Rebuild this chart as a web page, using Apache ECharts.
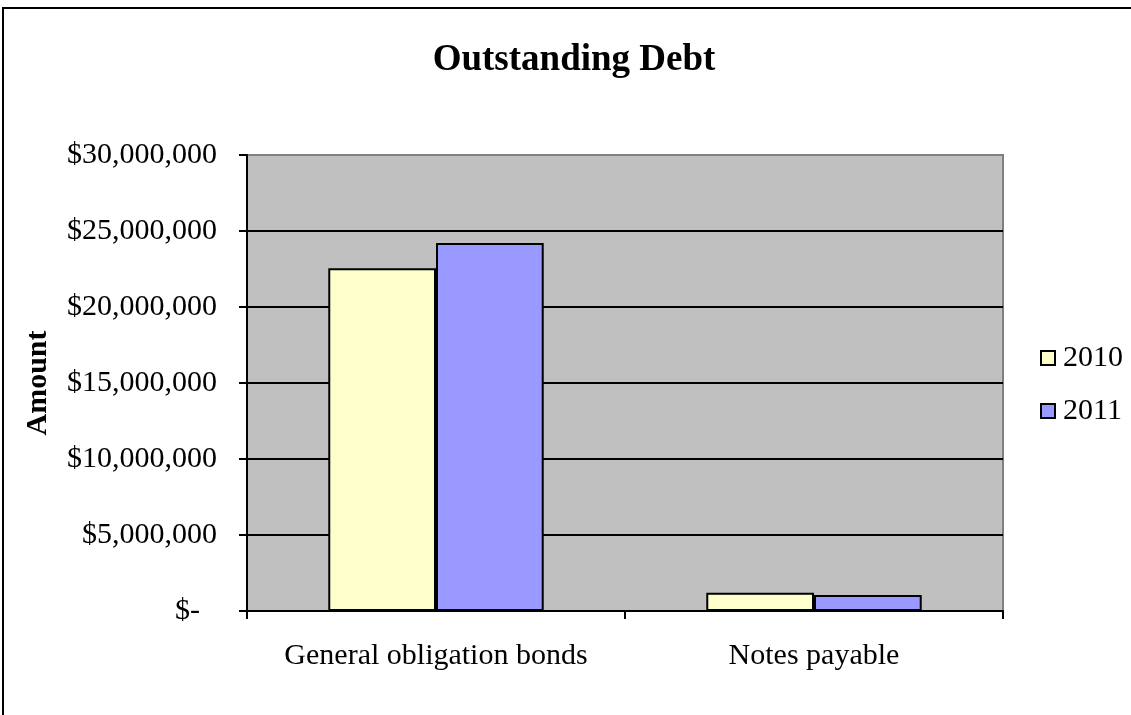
<!DOCTYPE html>
<html>
<head>
<meta charset="utf-8">
<script src="https://cdn.jsdelivr.net/npm/echarts@6/dist/echarts.min.js"></script>
<style>html,body{margin:0;padding:0;background:#fff}#c{width:1131px;height:715px}</style>
</head>
<body>
<div id="c"></div>
<script>
const categories = ['General obligation bonds', 'Notes payable'];
const seriesNames = ['2010', '2011'];
const values2010 = [22550000, 1200000];
const values2011 = [24210000, 1050000];
const yTicks = [0, 5000000, 10000000, 15000000, 20000000, 25000000, 30000000];

const FONT = '"Liberation Serif", "Times New Roman", serif';
const chart = echarts.init(document.getElementById('c'), null, {renderer: 'canvas'});

function fmt(v) {
  if (v === 0) return '{z|$-}';
  return '$' + v.toLocaleString('en-US');
}

chart.setOption({
  animation: false,
  backgroundColor: '#fff',
  textStyle: {fontFamily: FONT},
  title: {
    text: 'Outstanding Debt',
    left: 569, top: 37, textAlign: 'center',
    textStyle: {fontFamily: FONT, fontWeight: 'bold', fontSize: 37, color: '#000'}
  },
  graphic: [{
    type: 'rect', shape: {x: 3, y: 8, width: 1200, height: 800},
    style: {fill: 'none', stroke: '#000', lineWidth: 2}, z: 100, silent: true
  }],
  legend: {
    orient: 'vertical', left: 1040, top: 343, padding: 0,
    itemWidth: 14, itemHeight: 14, itemGap: 23,
    icon: 'rect',
    textStyle: {fontFamily: FONT, fontSize: 30, color: '#000', lineHeight: 30, padding: [0, 0, 0, 3]},
    data: seriesNames
  },
  grid: {
    left: 247, right: 128, top: 155, bottom: 104,
    show: true, backgroundColor: '#C0C0C0', borderColor: '#808080', borderWidth: 2,
    containLabel: false
  },
  xAxis: {
    type: 'category', data: categories,
    axisLine: {lineStyle: {color: '#000', width: 2}},
    axisTick: {show: true, inside: false, length: 8, interval: 0, lineStyle: {color: '#000', width: 2}},
    axisLabel: {fontFamily: FONT, fontSize: 30, color: '#000', margin: 30, interval: 0},
    splitLine: {show: false}
  },
  yAxis: {
    type: 'value', min: yTicks[0], max: yTicks[yTicks.length - 1], interval: yTicks[1] - yTicks[0],
    name: 'Amount', nameLocation: 'middle', nameGap: 194, nameRotate: 90,
    nameTextStyle: {fontFamily: FONT, fontWeight: 'bold', fontSize: 30, color: '#000'},
    axisLine: {show: true, lineStyle: {color: '#000', width: 2}},
    axisTick: {show: true, inside: false, length: 8, lineStyle: {color: '#000', width: 2}},
    axisLabel: {
      fontFamily: FONT, fontSize: 30, color: '#000', margin: 30,
      formatter: fmt,
      rich: {z: {fontFamily: FONT, fontSize: 30, color: '#000', padding: [0, 17, 0, 0]}}
    },
    splitLine: {show: true, lineStyle: {color: ['#000', '#000', '#000', '#000', '#000', '#000', '#808080'], width: 2}}
  },
  series: [
    {
      name: seriesNames[0], type: 'bar', data: values2010,
      barGap: '0%', barCategoryGap: '43%',
      itemStyle: {color: '#FFFFCC', borderColor: '#000', borderWidth: 2}
    },
    {
      name: seriesNames[1], type: 'bar', data: values2011,
      barGap: '0%', barCategoryGap: '43%',
      itemStyle: {color: '#9999FF', borderColor: '#000', borderWidth: 2}
    }
  ]
});
</script>
</body>
</html>
